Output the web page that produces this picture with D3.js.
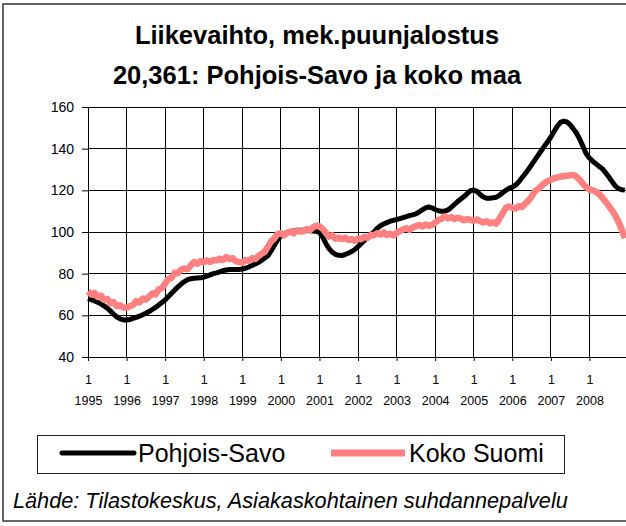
<!DOCTYPE html>
<html>
<head>
<meta charset="utf-8">
<script src="https://cdn.jsdelivr.net/npm/d3@7"></script>
<style>
  body { margin: 0; background: #fff; }
  text { font-family: "Liberation Sans", Arial, sans-serif; fill: #000; }
  .grid line { stroke: #000; shape-rendering: crispEdges; }
  .line { fill: none; stroke-linejoin: round; }
</style>
</head>
<body>
<svg id="svg1" width="626" height="526"></svg>
<script>
var titleLines = ["Liikevaihto, mek.puunjalostus", "20,361: Pohjois-Savo ja koko maa"];
var years = [1995, 1996, 1997, 1998, 1999, 2000, 2001, 2002, 2003, 2004, 2005, 2006, 2007, 2008];
var yTicks = [40, 60, 80, 100, 120, 140, 160];
var seriesNames = ["Pohjois-Savo", "Koko Suomi"];
var source = "Lähde: Tilastokeskus, Asiakaskohtainen suhdannepalvelu";

// monthly values, Jan 1995 - Dec 2008
var pohjoisSavo = [
  68, 67.5, 67, 66.3, 65.5, 64.5, 63.5, 62, 60.5, 59.2, 58.3, 57.8,
  57.8, 58, 58.5, 59, 59.6, 60.3, 61, 61.8, 62.8, 63.8, 65, 66.2,
  67.4, 69, 70.6, 72.2, 73.7, 75, 76.2, 77.1, 77.6, 77.8, 77.9, 78,
  78.3, 78.8, 79.4, 80, 80.4, 80.9, 81.4, 81.8, 82, 82, 82, 82,
  82.2, 82.6, 83.2, 83.9, 84.6, 85.4, 86.4, 87.5, 88.6, 91, 93.6, 96.2,
  98, 99.2, 99.8, 100.2, 100.5, 100.7, 100.8, 100.8, 100.7, 100.6, 100.5, 100.3,
  99.8, 97.5, 94.5, 92, 90.3, 89.3, 88.8, 88.7, 89.2, 89.8, 90.6, 91.6,
  93, 94.5, 96, 97.4, 98.8, 100, 101.8, 103, 103.8, 104.5, 105.2, 105.6,
  106, 106.4, 106.9, 107.4, 107.9, 108.2, 108.7, 109.6, 110.6, 111.6, 112, 111.6,
  110.8, 110.2, 110, 110, 110.6, 111.8, 113.2, 114.6, 115.8, 117, 118.5, 119.8,
  120.2, 119.5, 118, 116.8, 116.2, 116.2, 116.4, 116.7, 117.6, 118.8, 120, 121,
  121.5, 122.5, 124, 126, 128, 130, 132.2, 134.5, 136.8, 139, 141.2, 143.3,
  145.6, 148.2, 150.8, 152.6, 153.2, 152.8, 151.5, 149.5, 147.4, 144.5, 141, 137.6,
  135.5, 134, 132.8, 131.5, 130.4, 128.5, 126.5, 124.3, 122.2, 120.8, 120.3, 120.2
];
var kokoSuomi = [
  71.5, 70, 70.8, 68.8, 69.5, 67.4, 67.8, 65.8, 66.3, 64.4, 64.8, 63.8,
  63.6, 64.4, 65, 66.8, 66.2, 68, 67.6, 69, 70.5, 70, 72.5, 73,
  75.2, 77.5, 78, 80.5, 80.2, 82, 82.5, 82.2, 84, 85.6, 84.8, 86,
  85.5, 86.3, 85.6, 86.5, 86.4, 87.2, 86.6, 88, 87, 87.4, 86, 85.6,
  85.3, 86.5, 86.2, 87.4, 87, 88.4, 89.5, 90.5, 93, 95.5, 97, 99,
  99.4, 98.5, 99.6, 100.2, 99.4, 100.8, 100.2, 100.4, 101.4, 100.8, 102.2, 103,
  102.8, 101.5, 99.5, 97.8, 98.4, 96.8, 97.4, 96.6, 97.3, 96.2, 96.6, 95.8,
  96.8, 96.5, 97.7, 97.2, 98.6, 98.4, 99.4, 98.8, 99.8, 98.6, 99.2, 98.4,
  99.6, 100.4, 101.2, 101.8, 101, 102.2, 102.8, 103.4, 102.6, 103.6, 103, 103.4,
  104.5, 105.8, 106.4, 107.4, 106.6, 107.2, 106.2, 106.8, 106.4, 105.6, 106.2, 105.8,
  105.4, 106, 105.2, 104.6, 105.2, 104.2, 104.6, 104, 106.5, 109, 111.6, 112.2,
  111.6, 111.2, 112.4, 112, 113.6, 115, 117, 119.5, 120.6, 122, 123.4, 124.4,
  125, 125.8, 126.2, 126.6, 126.8, 127, 127.2, 127.4, 126.5, 125, 123, 121.5,
  120.4, 120, 119.4, 118.2, 116.6, 114.5, 112.6, 110.4, 108, 105, 101.5, 97
];

var svg = d3.select("#svg1");

// outer chart frame (right side runs off the picture)
svg.append("rect")
  .attr("x", 3).attr("y", 4)
  .attr("width", 660).attr("height", 517)
  .attr("fill", "#fff")
  .attr("stroke", "#333")
  .attr("stroke-width", 1.5);

svg.selectAll(".title")
  .data(titleLines)
  .enter().append("text")
  .attr("class", "title")
  .attr("x", 317)
  .attr("y", function(d, i) { return 44 + i * 40; })
  .attr("text-anchor", "middle")
  .attr("font-size", "25.5px")
  .attr("font-weight", "bold")
  .text(function(d) { return d; });

var xScale = d3.scaleLinear().domain([0, 168]).range([88, 628]);
var yScale = d3.scaleLinear().domain([40, 160]).range([357, 107]);

var g = svg.append("g");

// gridlines
g.append("g").attr("class", "grid")
  .selectAll("line")
  .data(yTicks)
  .enter().append("line")
  .attr("x1", 88).attr("x2", 628)
  .attr("y1", function(d) { return yScale(d); })
  .attr("y2", function(d) { return yScale(d); })
  .attr("stroke", function(d) { return d == 160 ? "#888" : "#000"; });

g.append("g").attr("class", "grid")
  .selectAll("line")
  .data(years)
  .enter().append("line")
  .attr("x1", function(d, i) { return xScale(i * 12); })
  .attr("x2", function(d, i) { return xScale(i * 12); })
  .attr("y1", yScale(160)).attr("y2", yScale(40))
  .attr("stroke", "#333");

// y axis
var yAxis = g.append("g")
  .attr("transform", "translate(88,0)")
  .call(d3.axisLeft(yScale).tickValues(yTicks).tickSize(6).tickPadding(8));
yAxis.select(".domain").attr("stroke", "#000");
yAxis.selectAll("text").attr("font-size", "14px").attr("font-family", null);

// x axis, one tick per January
var xAxis = g.append("g")
  .attr("transform", "translate(0,357)")
  .call(d3.axisBottom(xScale)
    .tickValues(years.map(function(d, i) { return i * 12; }))
    .tickSize(4)
    .tickFormat(function() { return ""; }));
xAxis.select(".domain").attr("d", "M88,0.5H628");

var xLabels = xAxis.selectAll(".tick");
xLabels.append("text")
  .attr("y", 27).attr("dy", 0)
  .attr("font-size", "12.5px")
  .attr("text-anchor", "middle")
  .attr("fill", "#000")
  .text("1");
xLabels.append("text")
  .attr("y", 48).attr("dy", 0)
  .attr("font-size", "12.5px")
  .attr("text-anchor", "middle")
  .attr("fill", "#000")
  .text(function(d, i) { return years[i]; });

var line = d3.line()
  .x(function(d, i) { return xScale(i); })
  .y(function(d) { return yScale(d); });

g.append("path")
  .datum(pohjoisSavo)
  .attr("class", "line")
  .attr("stroke", "#000")
  .attr("stroke-width", 5)
  .attr("d", line);

g.append("path")
  .datum(kokoSuomi)
  .attr("class", "line")
  .attr("stroke", "#FF8080")
  .attr("stroke-width", 6.5)
  .attr("d", line);

// legend
var legend = svg.append("g");
legend.append("rect")
  .attr("x", 37.5).attr("y", 435.5)
  .attr("width", 527).attr("height", 38)
  .attr("fill", "#fff")
  .attr("stroke", "#222");

var legendItems = [
  { name: seriesNames[0], color: "#000", width: 5, cap: "round", x0: 62, x1: 134, tx: 138 },
  { name: seriesNames[1], color: "#FF8080", width: 7, cap: "butt", x0: 331, x1: 405, tx: 409 }
];
legend.selectAll(".lg-line")
  .data(legendItems)
  .enter().append("line")
  .attr("x1", function(d) { return d.x0; })
  .attr("x2", function(d) { return d.x1; })
  .attr("y1", 453).attr("y2", 453)
  .attr("stroke", function(d) { return d.color; })
  .attr("stroke-width", function(d) { return d.width; })
  .attr("stroke-linecap", function(d) { return d.cap; });
legend.selectAll(".lg-text")
  .data(legendItems)
  .enter().append("text")
  .attr("x", function(d) { return d.tx; })
  .attr("y", 462)
  .attr("font-size", "25px")
  .text(function(d) { return d.name; });

svg.append("text")
  .attr("x", 13)
  .attr("y", 508)
  .attr("font-size", "21.7px")
  .attr("font-style", "italic")
  .text(source);
</script>
</body>
</html>
